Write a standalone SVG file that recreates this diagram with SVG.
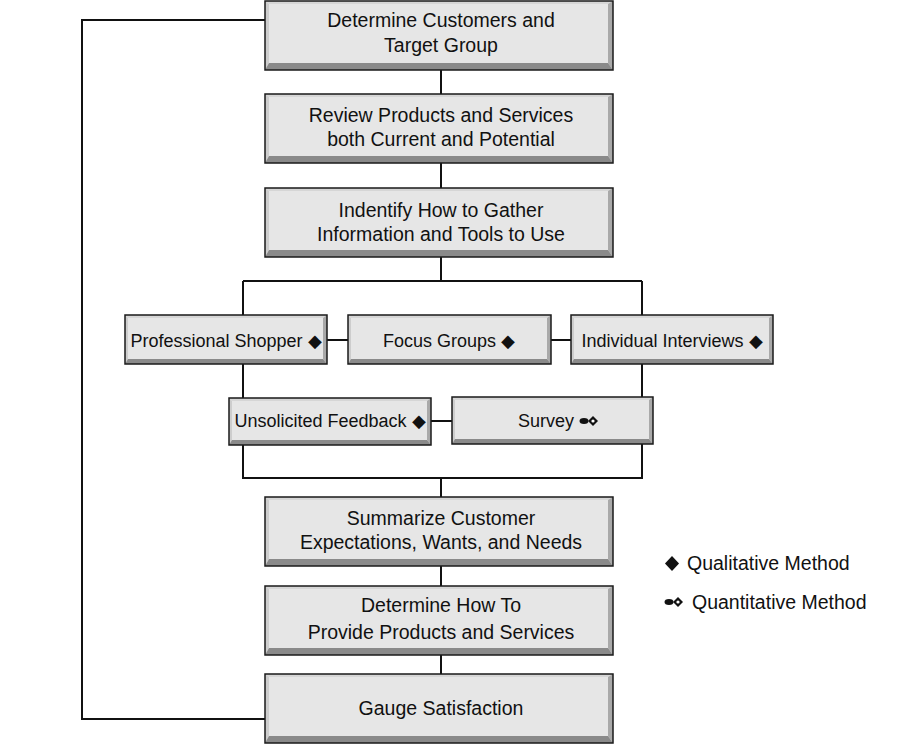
<svg xmlns="http://www.w3.org/2000/svg" width="897" height="753" viewBox="0 0 897 753">
<style>
.face{fill:#e6e6e6}
.bt{fill:#d6d6d6}
.bl{fill:#cdcdcd}
.br{fill:#a9a9a9}
.bb{fill:#8a8a8a}
.edge{fill:none;stroke:#1a1a1a;stroke-width:1.5}
.t{font-family:"Liberation Sans",Arial,sans-serif;font-size:19.5px;fill:#111;text-anchor:middle}
.ts{font-family:"Liberation Sans",Arial,sans-serif;font-size:18px;fill:#111;text-anchor:middle}
.lg{font-family:"Liberation Sans",Arial,sans-serif;font-size:19.5px;fill:#111}
.c{fill:none;stroke:#111;stroke-width:2}
</style>
<defs>
<g id="quant">
<ellipse cx="0" cy="0" rx="4.5" ry="3" fill="#111"/>
<polygon points="9,-5 14,0 9,5 4,0" fill="#111"/>
<circle cx="9" cy="0" r="1.6" fill="#fff"/>
</g>
</defs>
<g id="connectors">
<path class="c" d="M265,20 H82 V719 H265"/>
<path class="c" d="M441,70 V94 M441,163 V188 M441,257 V281 M243,281 H642 M243,281 V315 M642,281 V315"/>
<path class="c" d="M327,340 H348 M551,340 H571"/>
<path class="c" d="M243,364 V398 M642,364 V397 M431,421 H452"/>
<path class="c" d="M243,445 V478 H642 V444 M441,478 V497"/>
<path class="c" d="M441,566 V586 M441,655 V674"/>
</g>
<g id="n1">
<rect class="face" x="265" y="1" width="348" height="69"/>
<polygon class="bt" points="265,1 613,1 608,4 269,4"/>
<polygon class="bl" points="265,1 269,4 269,63 265,70"/>
<polygon class="br" points="613,1 613,70 608,63 608,4"/>
<polygon class="bb" points="265,70 613,70 608,63 269,63"/>
<rect class="edge" x="265" y="1" width="348" height="69"/>
<text class="t" x="441" y="27">Determine Customers and</text>
<text class="t" x="441" y="52">Target Group</text>
</g>
<g id="n2">
<rect class="face" x="265" y="94" width="348" height="69"/>
<polygon class="bt" points="265,94 613,94 608,97 269,97"/>
<polygon class="bl" points="265,94 269,97 269,156 265,163"/>
<polygon class="br" points="613,94 613,163 608,156 608,97"/>
<polygon class="bb" points="265,163 613,163 608,156 269,156"/>
<rect class="edge" x="265" y="94" width="348" height="69"/>
<text class="t" x="441" y="122">Review Products and Services</text>
<text class="t" x="441" y="146">both Current and Potential</text>
</g>
<g id="n3">
<rect class="face" x="265" y="188" width="348" height="69"/>
<polygon class="bt" points="265,188 613,188 608,191 269,191"/>
<polygon class="bl" points="265,188 269,191 269,250 265,257"/>
<polygon class="br" points="613,188 613,257 608,250 608,191"/>
<polygon class="bb" points="265,257 613,257 608,250 269,250"/>
<rect class="edge" x="265" y="188" width="348" height="69"/>
<text class="t" x="441" y="217">Indentify How to Gather</text>
<text class="t" x="441" y="241">Information and Tools to Use</text>
</g>
<g id="n4">
<rect class="face" x="125" y="315" width="202" height="49"/>
<polygon class="bt" points="125,315 327,315 323,318 128,318"/>
<polygon class="bl" points="125,315 128,318 128,359 125,364"/>
<polygon class="br" points="327,315 327,364 323,359 323,318"/>
<polygon class="bb" points="125,364 327,364 323,359 128,359"/>
<rect class="edge" x="125" y="315" width="202" height="49"/>
<text class="ts" x="226" y="347">Professional Shopper ◆</text>
</g>
<g id="n5">
<rect class="face" x="348" y="315" width="203" height="49"/>
<polygon class="bt" points="348,315 551,315 547,318 351,318"/>
<polygon class="bl" points="348,315 351,318 351,359 348,364"/>
<polygon class="br" points="551,315 551,364 547,359 547,318"/>
<polygon class="bb" points="348,364 551,364 547,359 351,359"/>
<rect class="edge" x="348" y="315" width="203" height="49"/>
<text class="ts" x="449" y="347">Focus Groups ◆</text>
</g>
<g id="n6">
<rect class="face" x="571" y="315" width="202" height="49"/>
<polygon class="bt" points="571,315 773,315 769,318 574,318"/>
<polygon class="bl" points="571,315 574,318 574,359 571,364"/>
<polygon class="br" points="773,315 773,364 769,359 769,318"/>
<polygon class="bb" points="571,364 773,364 769,359 574,359"/>
<rect class="edge" x="571" y="315" width="202" height="49"/>
<text class="ts" x="672" y="347">Individual Interviews ◆</text>
</g>
<g id="n7">
<rect class="face" x="229" y="398" width="202" height="47"/>
<polygon class="bt" points="229,398 431,398 427,401 232,401"/>
<polygon class="bl" points="229,398 232,401 232,440 229,445"/>
<polygon class="br" points="431,398 431,445 427,440 427,401"/>
<polygon class="bb" points="229,445 431,445 427,440 232,440"/>
<rect class="edge" x="229" y="398" width="202" height="47"/>
<text class="ts" x="330" y="427">Unsolicited Feedback ◆</text>
</g>
<g id="n8">
<rect class="face" x="452" y="397" width="201" height="47"/>
<polygon class="bt" points="452,397 653,397 649,400 455,400"/>
<polygon class="bl" points="452,397 455,400 455,439 452,444"/>
<polygon class="br" points="653,397 653,444 649,439 649,400"/>
<polygon class="bb" points="452,444 653,444 649,439 455,439"/>
<rect class="edge" x="452" y="397" width="201" height="47"/>
<text class="ts" x="546" y="427">Survey</text>
<use href="#quant" x="584" y="421"/>
</g>
<g id="n9">
<rect class="face" x="265" y="497" width="348" height="69"/>
<polygon class="bt" points="265,497 613,497 608,500 269,500"/>
<polygon class="bl" points="265,497 269,500 269,559 265,566"/>
<polygon class="br" points="613,497 613,566 608,559 608,500"/>
<polygon class="bb" points="265,566 613,566 608,559 269,559"/>
<rect class="edge" x="265" y="497" width="348" height="69"/>
<text class="t" x="441" y="525">Summarize Customer</text>
<text class="t" x="441" y="549">Expectations, Wants, and Needs</text>
</g>
<g id="n10">
<rect class="face" x="265" y="586" width="348" height="69"/>
<polygon class="bt" points="265,586 613,586 608,589 269,589"/>
<polygon class="bl" points="265,586 269,589 269,648 265,655"/>
<polygon class="br" points="613,586 613,655 608,648 608,589"/>
<polygon class="bb" points="265,655 613,655 608,648 269,648"/>
<rect class="edge" x="265" y="586" width="348" height="69"/>
<text class="t" x="441" y="612">Determine How To</text>
<text class="t" x="441" y="639">Provide Products and Services</text>
</g>
<g id="n11">
<rect class="face" x="265" y="674" width="348" height="69"/>
<polygon class="bt" points="265,674 613,674 608,677 269,677"/>
<polygon class="bl" points="265,674 269,677 269,736 265,743"/>
<polygon class="br" points="613,674 613,743 608,736 608,677"/>
<polygon class="bb" points="265,743 613,743 608,736 269,736"/>
<rect class="edge" x="265" y="674" width="348" height="69"/>
<text class="t" x="441" y="715">Gauge Satisfaction</text>
</g>
<g id="legend">
<polygon points="672,556 679,563.5 672,571 665,563.5" fill="#111"/>
<text class="lg" x="687" y="570">Qualitative Method</text>
<use href="#quant" x="669" y="602"/>
<text class="lg" x="692" y="609">Quantitative Method</text>
</g>
</svg>
